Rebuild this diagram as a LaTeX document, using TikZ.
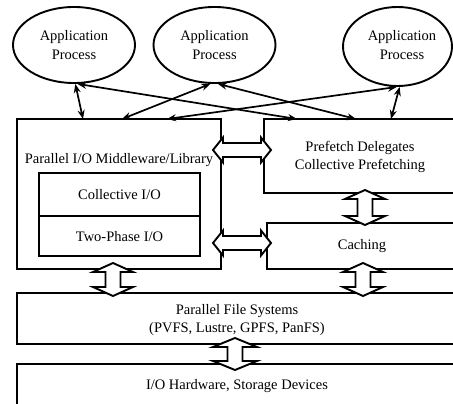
\documentclass[tikz,border=0pt]{standalone}
\usepackage{fontspec}
\setmainfont{Liberation Serif}
\usetikzlibrary{arrows.meta,shapes.geometric}
\tikzset{
 box/.style={draw, line width=1.9pt, rectangle, inner sep=0pt},
 proc/.style={draw, ellipse, line width=1.9pt, minimum width=122pt, minimum height=76pt, inner sep=0pt, align=center, font=\fontsize{14.5}{19}\selectfont},
 lbl/.style={align=center, font=\fontsize{14.5}{18}\selectfont, inner sep=0pt},
 link/.style={line width=1.7pt, {Stealth[length=9pt,width=7pt]}-{Stealth[length=9pt,width=7pt]}},
 barrow/.style={draw, line width=1.9pt, fill=white, line join=miter},
}
\newcommand\dblharrow[3]{% x1 x2 y
 \draw[barrow] (#1,#3) -- ({#1+10},{#3-12.5}) -- ({#1+10},{#3-7}) -- ({#2-10},{#3-7}) -- ({#2-10},{#3-12.5}) -- (#2,#3)
   -- ({#2-10},{#3+12.5}) -- ({#2-10},{#3+7}) -- ({#1+10},{#3+7}) -- ({#1+10},{#3+12.5}) -- cycle;}
\newcommand\dblvarrow[4]{% x y1 y2 headhalfwidth
 \draw[barrow] (#1,#2) -- ({#1+#4},{#2+9}) -- ({#1+7.5},{#2+9}) -- ({#1+7.5},{#3-9}) -- ({#1+#4},{#3-9}) -- (#1,#3)
   -- ({#1-#4},{#3-9}) -- ({#1-7.5},{#3-9}) -- ({#1-7.5},{#2+9}) -- ({#1-#4},{#2+9}) -- cycle;}
\begin{document}
\begin{tikzpicture}[x=1pt,y=-1pt]
\useasboundingbox (0,0) rectangle (453,404);
\clip (0,0) rectangle (453,404);
% processes
\node[proc] (e1) at (74,45) {Application\\Process};
\node[proc] (e2) at (214.5,45) {Application\\Process};
\node[proc, minimum width=109pt, minimum height=79pt] (e3) at (397.5,46.5) {};
\node[lbl, font=\fontsize{14.5}{19}\selectfont] (e3l) at (402,45.5) {Application\\Process};
% boxes
\node[box, minimum width=204pt, minimum height=150pt] (mw) at (119,194) {};
\node[box, minimum width=196pt, minimum height=74pt] (pf) at (362,156) {};
\node[box, minimum width=193pt, minimum height=46pt] (ca) at (363.5,246) {};
\node[box, minimum width=443pt, minimum height=51pt] (pfs) at (238.5,318.5) {};
\node[box, minimum width=443pt, minimum height=56pt] (hw) at (238.5,392) {};
\node[box, minimum width=161pt, minimum height=43pt] (cio) at (119.5,194.5) {};
\node[box, minimum width=161pt, minimum height=40pt] (tpio) at (119.5,236) {};
% labels
\node[lbl] (mwl) at (119,160) {Parallel I/O Middleware/Library};
\node[lbl] (pfl) at (360,157) {Prefetch Delegates\\Collective Prefetching};
\node[lbl] (cil) at (119.5,195) {Collective I/O};
\node[lbl] (tpl) at (119.5,237) {Two-Phase I/O};
\node[lbl] (cal) at (362,246) {Caching};
\node[lbl] (pfsl) at (237,320) {Parallel File Systems\\(PVFS, Lustre, GPFS, PanFS)};
\node[lbl] (hwl) at (237,386) {I/O Hardware, Storage Devices};
% link end points on box tops
\coordinate (m1) at (83,119);
\coordinate (m2) at (122,119);
\coordinate (m3) at (167,119);
\coordinate (p1) at (297,119);
\coordinate (p2) at (356,119);
\coordinate (p3) at (391,119);
\draw[link] (e1.-88) -- (m1);
\draw[link] (e1.-85) -- (p1);
\draw[link] (e2.-96) -- (m2);
\draw[link] (e2.-85) -- (p2);
\draw[link] (e3.-91) -- (m3);
\draw[link] (e3.-87) -- (p3);
% block arrows
\dblharrow{213}{271}{150}
\dblharrow{213}{271}{243}
\dblvarrow{365}{190}{225}{20}
\dblvarrow{113}{263}{296}{20}
\dblvarrow{363}{263}{296}{20}
\dblvarrow{235}{338}{370}{22}
\end{tikzpicture}
\end{document}
